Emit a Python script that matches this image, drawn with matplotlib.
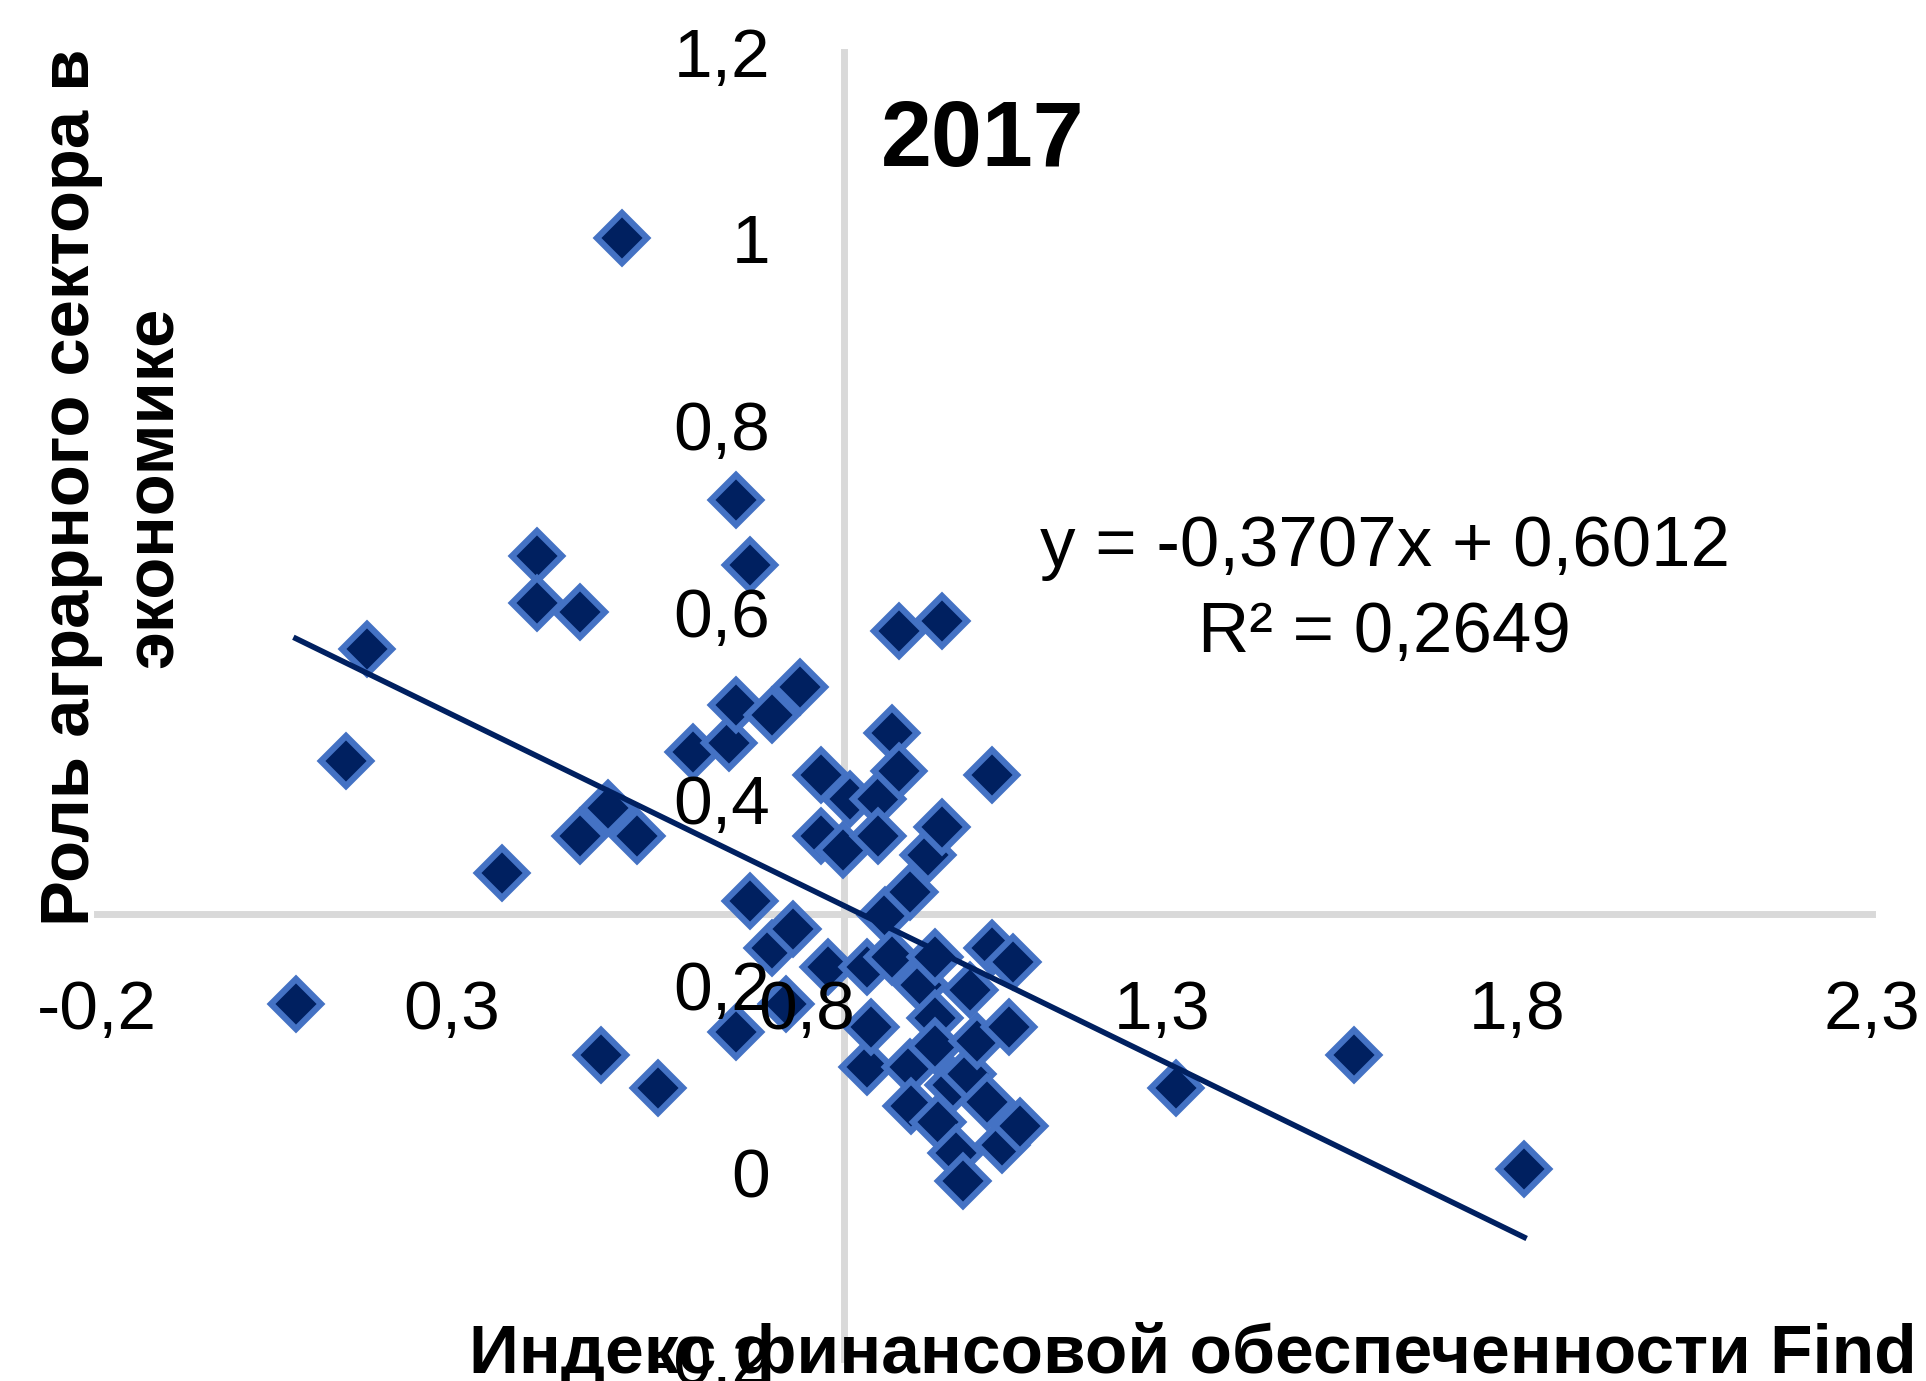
import numpy as np
import matplotlib.pyplot as plt

plt.rcParams['font.family'] = ['Liberation Sans', 'DejaVu Sans']

# Find index (x) vs role of agrarian sector (y), 2017
find_index = [0.08, 0.15, 0.18, 0.37, 0.42, 0.42, 0.48, 0.48, 0.51, 0.52,
              0.54, 0.56, 0.59, 0.64, 0.69, 0.70, 0.70, 0.70, 0.72, 0.72,
              0.75, 0.75, 0.77, 0.78, 0.79, 0.82, 0.82, 0.83, 0.85, 0.86,
              0.885, 0.885, 0.89, 0.90, 0.90, 0.91, 0.92, 0.92, 0.93, 0.93,
              0.945, 0.945, 0.947, 0.96, 0.97, 0.98, 0.98, 0.98, 0.985, 0.99,
              0.99, 1.005, 1.01, 1.02, 1.027, 1.03, 1.04, 1.053, 1.06, 1.06,
              1.075, 1.085, 1.09, 1.10, 1.32, 1.57, 1.81]
agro_role = [0.18, 0.44, 0.56, 0.32, 0.66, 0.61, 0.60, 0.36, 0.125, 0.39,
             1.00, 0.36, 0.09, 0.45, 0.46, 0.72, 0.50, 0.15, 0.65, 0.29,
             0.49, 0.24, 0.18, 0.26, 0.52, 0.425, 0.36, 0.22, 0.345, 0.40,
             0.22, 0.113, 0.155, 0.40, 0.36, 0.275, 0.47, 0.23, 0.58, 0.43,
             0.30, 0.113, 0.071, 0.20, 0.34, 0.23, 0.165, 0.135, 0.054, 0.59,
             0.37, 0.093, 0.021, -0.009, 0.105, 0.195, 0.14, 0.075, 0.24, 0.425,
             0.029, 0.155, 0.225, 0.049, 0.09, 0.125, 0.003]

# linear trend as printed on the chart
trend_slope = -0.3707
trend_intercept = 0.6012
r_squared = 0.2649

x_ticks = [-0.2, 0.3, 0.8, 1.3, 1.8, 2.3]
y_ticks = [-0.2, 0, 0.2, 0.4, 0.6, 0.8, 1, 1.2]
x_cross = 0.852   # where the vertical axis crosses
y_cross = 0.277   # where the horizontal axis crosses


def fmt(v):
    return f"{v:g}".replace('.', ',')


x = np.array(find_index)
y = np.array(agro_role)

fig = plt.figure(figsize=(19.26, 13.81), dpi=100)
ax = fig.add_axes([0.0504, 0.016, 0.9216, 0.9466])
ax.set_xlim(-0.2, 2.3)
ax.set_ylim(-0.2, 1.2)

ax.plot(x, y, linestyle='none', marker='D', markersize=25,
        markerfacecolor='#002060', markeredgecolor='#4472C4',
        markeredgewidth=4.5, zorder=3)

# trend line over the data range
xt = np.array([x.min(), x.max()])
ax.plot(xt, trend_slope * xt + trend_intercept, color='#002060', linewidth=4, zorder=4)

for side in ['top', 'right']:
    ax.spines[side].set_visible(False)
ax.spines['left'].set_position(('data', x_cross))
ax.spines['bottom'].set_position(('data', y_cross))
for side in ['left', 'bottom']:
    ax.spines[side].set_color('#d9d9d9')
    ax.spines[side].set_linewidth(5)

ax.set_xticks(x_ticks)
ax.set_xticklabels([fmt(v) for v in x_ticks])
ax.set_yticks(y_ticks)
ax.set_yticklabels([fmt(v) for v in y_ticks])
ax.tick_params(axis='x', length=0, labelsize=50, pad=47)
ax.tick_params(axis='y', length=0, labelsize=50, pad=53)
ax.xaxis.set_zorder(5)
ax.yaxis.set_zorder(5)

fig.text(0.4575, 0.880, "2017", fontsize=66, fontweight='bold', ha='left', va='baseline')

fig.text(0.719, 0.572, f"y = {fmt(trend_slope)}x + {fmt(trend_intercept)}\nR² = {fmt(r_squared)}",
         fontsize=51, ha='center', va='center', multialignment='center', linespacing=1.4)

fig.text(0.0587, 0.647, "Роль аграрного сектора в\nэкономике", rotation=90,
         fontsize=49.5, fontweight='bold', ha='center', va='center',
         multialignment='center', linespacing=1.4)

fig.text(0.6194, 0.006, "Индекс финансовой обеспеченности Find",
         fontsize=50, fontweight='bold', ha='center', va='baseline')

fig.savefig('out.png', dpi=100)
